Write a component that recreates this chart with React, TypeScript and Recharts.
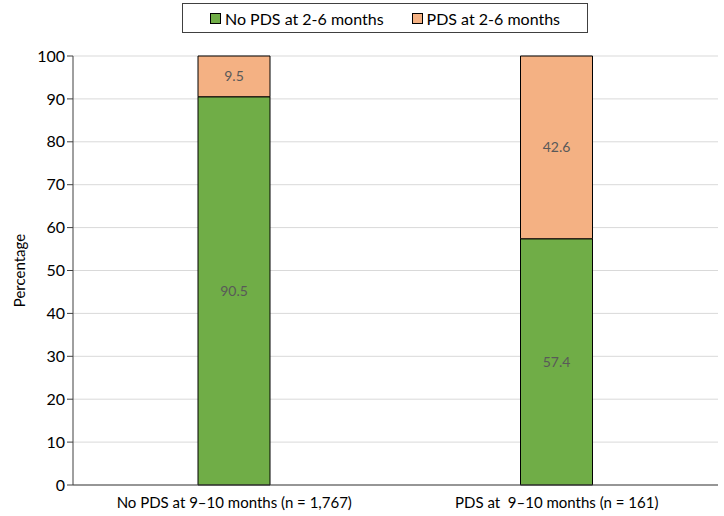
import { BarChart, Bar, XAxis, YAxis, CartesianGrid, Legend, LabelList } from 'recharts';

const categories = ['No PDS at 9–10 months (n = 1,767)', 'PDS at  9–10 months (n = 161)'];
const noPds26 = [90.5, 57.4];
const pds26 = [9.5, 42.6];
const yTicks = [0, 10, 20, 30, 40, 50, 60, 70, 80, 90, 100];

const data = categories.map((name, i) => ({ name, noPds: noPds26[i], pds: pds26[i] }));

const FONT = 'Lato, "Open Sans", sans-serif';

const LegendBox = () => (
  <div
    style={{
      border: '1.5px solid #404040',
      height: 28,
      display: 'flex',
      alignItems: 'center',
      justifyContent: 'center',
      gap: 28,
      fontFamily: FONT,
      fontSize: 16,
      color: '#000',
      background: '#fff',
    }}
  >
    <span style={{ display: 'flex', alignItems: 'center' }}>
      <span style={{ width: 9, height: 9, background: '#70AD47', border: '1px solid #000', marginRight: 4 }} />
      No PDS at 2-6 months
    </span>
    <span style={{ display: 'flex', alignItems: 'center' }}>
      <span style={{ width: 9, height: 9, background: '#F4B183', border: '1px solid #000', marginRight: 4 }} />
      PDS at 2-6 months
    </span>
  </div>
);

export default function App() {
  return (
    <div style={{ width: 724, height: 516, background: '#fff' }}>
      <style>{`body{margin:0}`}</style>
      <BarChart
        width={724}
        height={516}
        data={data}
        margin={{ top: 26, right: 6, left: 0, bottom: 0 }}
        barSize={72}
      >
        <CartesianGrid vertical={false} stroke="#d9d9d9" />
        <XAxis
          dataKey="name"
          tickLine={false}
          axisLine={{ stroke: '#404040' }}
          tick={{ fill: '#000', fontSize: 15, fontFamily: FONT }}
          tickFormatter={(v: string) => v.replace(/  /g, ' \u00a0')}
          tickMargin={6}
          height={31}
        />
        <YAxis
          domain={[0, 100]}
          ticks={yTicks}
          width={73}
          axisLine={{ stroke: '#404040' }}
          tickLine={{ stroke: '#404040' }}
          tickSize={6}
          tick={{ fill: '#000', fontSize: 16, fontFamily: FONT }}
          label={{ value: 'Percentage', angle: -90, position: 'insideLeft', offset: 20, style: { fill: '#000', fontSize: 15, fontFamily: FONT, textAnchor: 'middle' } }}
        />
        <Legend
          verticalAlign="top"
          content={<LegendBox />}
          wrapperStyle={{ top: 3, left: 182, width: 406 }}
        />
        <Bar dataKey="noPds" stackId="a" fill="#70AD47" stroke="#000" strokeWidth={1} isAnimationActive={false}>
          <LabelList dataKey="noPds" position="center" fill="#595959" fontSize={14} fontFamily={FONT} />
        </Bar>
        <Bar dataKey="pds" stackId="a" fill="#F4B183" stroke="#000" strokeWidth={1} isAnimationActive={false}>
          <LabelList dataKey="pds" position="center" fill="#595959" fontSize={14} fontFamily={FONT} />
        </Bar>
      </BarChart>
    </div>
  );
}
